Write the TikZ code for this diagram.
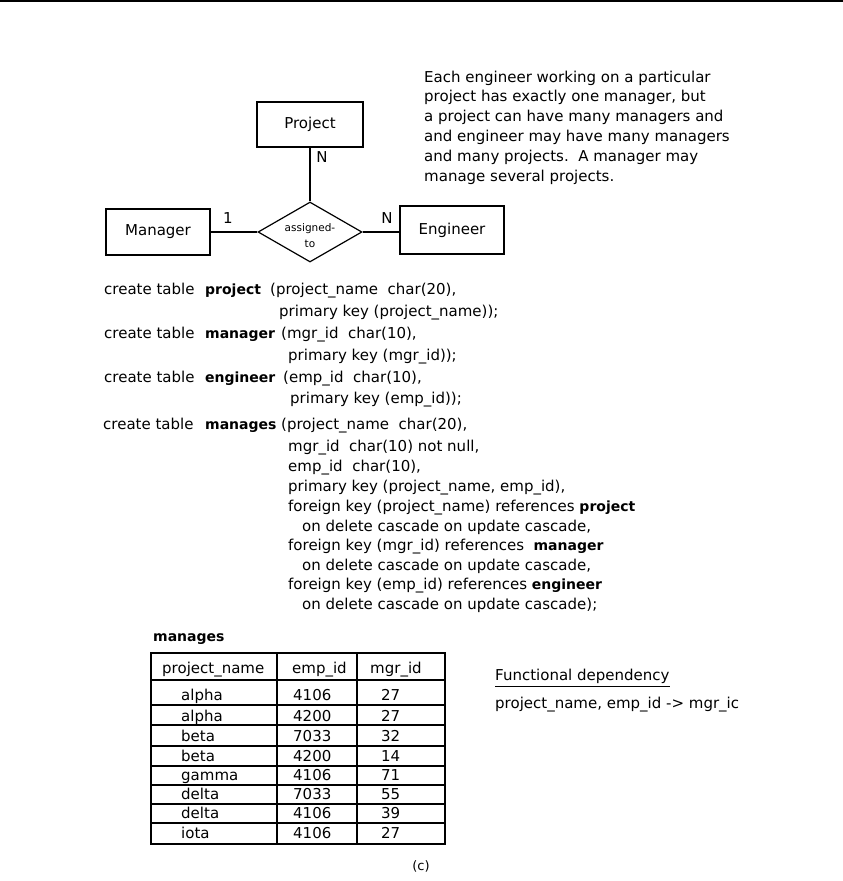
\documentclass[tikz,border=0pt]{standalone}
\usepackage{fontspec}
\setmainfont{DejaVu Sans}
\usepackage{tikz}
\usetikzlibrary{
  positioning,
  shapes.geometric
}
\newcommand{\pxsize}[1]{\fontsize{#1}{#1}\selectfont}

\begin{document}
\begin{tikzpicture}[
  x=1pt, y=-1pt,
  font=\fontsize{15}{19.8}\selectfont,
  ent/.style={
    draw,
    line width=1.2pt,
    inner sep=0pt,
    minimum width=104pt,
    minimum height=46pt,
  },
  rel/.style={
    draw,
    diamond,
    aspect=1.7,
    line width=1.2pt,
    inner sep=0pt,
    minimum width=104pt,
    minimum height=60pt,
  },
  reltext/.style={
    align=center,
    inner sep=0pt,
    font=\fontsize{10.5}{16}\selectfont,
  },
  conn/.style={line width=1.2pt},
  card/.style={inner sep=0pt},
  code/.style={anchor=base west, inner sep=0pt},
  kw/.style={code, font=\pxsize{14}\bfseries},
  grid/.style={line width=1.2pt},
]
  \useasboundingbox (0,0) rectangle (843,881);
  \draw[line width=2pt] (0,1) -- (843,1);

  % -------- E-R 图 --------
  \node[ent, minimum width=106pt, minimum height=45pt] (proj) at (310,124.5) {Project};
  \node[ent] (mgr) at (158,232) {Manager};
  \node[ent, minimum height=48pt] (eng) at (452,230) {Engineer};
  \node[rel, label={[reltext, yshift=-4pt]center:assigned-\\to}] (asg) at (310,232) {};

  \draw[conn] (proj) -- (asg);
  \draw[conn] (mgr) -- (asg);
  \draw[conn] (asg.east) -- (eng.west |- asg.east);

  \node[card] (cardM) at (228,218) {1};
  \node[card] (cardE) at (387,218) {N};
  \node[card] (cardP) at (322,157) {N};

  % -------- 说明文字（右上）--------
  \node[anchor=north west, inner sep=0pt, align=left] (note) at (424,70.5) {%
    Each engineer working on a particular\\
    project has exactly one manager, but\\
    a project can have many managers and\\
    and engineer may have many managers\\
    and many projects.\ \ A manager may\\
    manage several projects.
  };

  % -------- SQL 定义 --------
  \node[code] (ct1) at (104,294) {create table};
  \node[kw] (tb1) at (205,294) {project};
  \node[code] (ln1) at (270,294) {(project\_name\ \ char(20),};
  \node[code] (ln2) at (279,316) {primary key (project\_name));};

  \node[code] (ct2) at (104,338) {create table};
  \node[kw] (tb2) at (205,338) {manager};
  \node[code] (ln3) at (281,338) {(mgr\_id\ \ char(10),};
  \node[code] (ln4) at (288,360) {primary key (mgr\_id));};

  \node[code] (ct3) at (104,382) {create table};
  \node[kw] (tb3) at (205,382) {engineer};
  \node[code] (ln5) at (283,382) {(emp\_id\ \ char(10),};
  \node[code] (ln6) at (290,403) {primary key (emp\_id));};

  \node[code] (ct4) at (103,429) {create table};
  \node[kw] (tb4) at (205,429) {manages};
  \node[code] (ln7) at (281,429) {(project\_name\ \ char(20),};
  \node[code] (ln8) at (288,451) {mgr\_id\ \ char(10) not null,};
  \node[code] (ln9) at (288,471) {emp\_id\ \ char(10),};
  \node[code] (ln10) at (288,491) {primary key (project\_name, emp\_id),};
  \node[code] (ln11) at (288,511) {foreign key (project\_name) references {\pxsize{14}\bfseries project}};
  \node[code] (ln12) at (302,531) {on delete cascade on update cascade,};
  \node[code] (ln13) at (288,550) {foreign key (mgr\_id) references\ \ {\pxsize{14}\bfseries manager}};
  \node[code] (ln14) at (302,570) {on delete cascade on update cascade,};
  \node[code] (ln15) at (288,589) {foreign key (emp\_id) references {\pxsize{14}\bfseries engineer}};
  \node[code] (ln16) at (302,609) {on delete cascade on update cascade);};

  % -------- manages 表 --------
  \node[kw] (tname) at (153,641) {manages};
  \draw[grid] (151,653) rectangle (445,844);
  \draw[grid] (277,653) -- (277,844);
  \draw[grid] (357,653) -- (357,844);
  \foreach \y in {680,705,725,746,766,785,804,823}
    \draw[grid] (151,\y) -- (445,\y);

  \node[code] (hP) at (162,673) {project\_name};
  \node[code] (hE) at (292,673) {emp\_id};
  \node[code] (hM) at (370,673) {mgr\_id};
  \foreach \n/\y/\p/\e/\m in {1/700/alpha/4106/27, 2/721/alpha/4200/27,
      3/741/beta/7033/32, 4/761/beta/4200/14, 5/780/gamma/4106/71,
      6/799/delta/7033/55, 7/818/delta/4106/39, 8/838/iota/4106/27} {
    \node[code] (p\n) at (181,\y) {\p};
    \node[code] (e\n) at (293,\y) {\e};
    \node[code] (m\n) at (381,\y) {\m};
  }

  % -------- 函数依赖 --------
  \node[code] (fdh) at (495,680) {Functional dependency};
  \draw[line width=1pt] ([yshift=-3pt]fdh.south west) -- ([yshift=-3pt]fdh.south east);
  \node[code] (fdl) at ([yshift=-28pt]fdh.base west) {project\_name, emp\_id -> mgr\_ic};

  \node[font=\pxsize{13}] (cap) at (421,866) {(c)};
\end{tikzpicture}
\end{document}
